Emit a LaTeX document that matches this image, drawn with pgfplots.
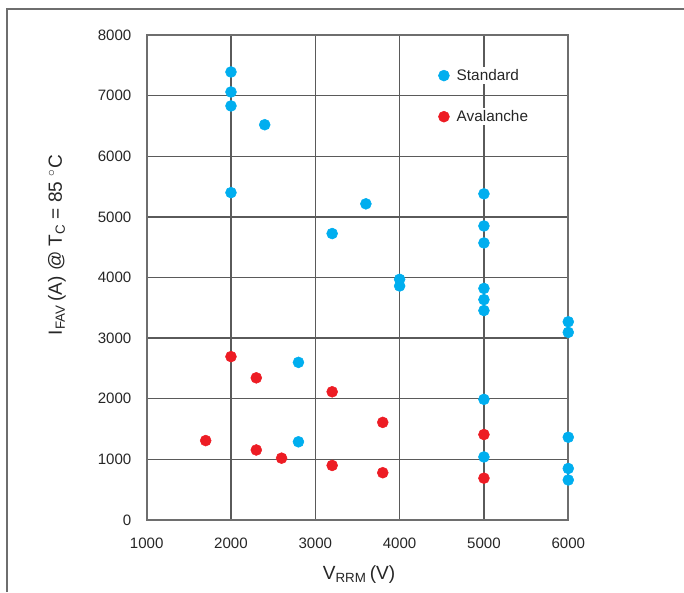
\documentclass[border=0pt]{standalone}
\usepackage{pgfplots}
\pgfplotsset{compat=1.18}
\usepackage{fontspec}
\setmainfont{Liberation Sans}
\definecolor{stdblue}{HTML}{00AEEF}
\definecolor{avred}{HTML}{ED1C24}
\definecolor{gridc}{HTML}{5A5A5A}
\definecolor{framec}{HTML}{6E6E6E}
\begin{document}
\begin{tikzpicture}
\useasboundingbox (0,0) rectangle (513pt,444pt);
\draw[line width=1.5pt, color=framec] (5.25pt,0) -- (5.25pt,437.25pt) -- (513pt,437.25pt);
\begin{axis}[
  at={(110pt,54pt)}, anchor=south west,
  scale only axis, width=316.2pt, height=363.75pt,
  xmin=1000, xmax=6000, ymin=0, ymax=8000,
  xtick={1000,2000,3000,4000,5000,6000},
  ytick={0,1000,2000,3000,4000,5000,6000,7000,8000},
  scaled ticks=false,
  grid=major,
  major grid style={gridc, line width=1.1pt},
  axis line style={framec, line width=1.4pt},
  tick style={draw=none},
  /pgf/number format/assume math mode=true,
  /pgf/number format/set thousands separator={},
  ticklabel style={font=\fontsize{11.3}{13}\selectfont, text=black!85},
  yticklabel style={xshift=-8pt},
  xticklabel style={yshift=-10pt},
  xlabel={V\textsubscript{RRM}\,(V)},
  ylabel={I\textsubscript{FAV}\,(A) @ T\textsubscript{C} = 85 $^\circ$C},
  label style={font=\fontsize{14.3}{16}\selectfont, text=black!85},
  xlabel style={at={(axis description cs:0.5036,-0.113)}, anchor=center},
  ylabel style={at={(axis description cs:-0.2128,0.567)}, anchor=center},
  legend style={at={(axis description cs:0.682,0.940)}, anchor=north west,
    draw=none, fill=none, row sep=18pt,
    font=\fontsize{11.5}{13}\selectfont,
    nodes={fill=white, inner sep=1.5pt, text=black!85},
    /tikz/every odd column/.append style={column sep=4pt}},
  legend cell align=left,
]
\addplot[only marks, mark=*, mark size=4.1pt, color=stdblue, mark options={draw=stdblue, fill=stdblue}] coordinates {
(2000,7390)(2000,7060)(2000,6830)(2400,6520)(2000,5400)(3600,5215)(3200,4725)
(4000,3970)(4000,3860)
(5000,5380)(5000,4850)(5000,4570)(5000,3820)(5000,3635)(5000,3455)
(6000,3270)(6000,3095)
(2800,2600)(5000,1990)(2800,1290)(6000,1365)(5000,1040)(6000,850)(6000,660)
};
\addlegendentry{Standard}
\addplot[only marks, mark=*, mark size=4.1pt, color=avred, mark options={draw=avred, fill=avred}] coordinates {
(2000,2695)(2300,2345)(3200,2115)(3800,1610)(1700,1310)(5000,1410)
(2300,1155)(2600,1020)(3200,900)(3800,780)(5000,690)
};
\addlegendentry{Avalanche}
\end{axis}
\end{tikzpicture}
\end{document}
